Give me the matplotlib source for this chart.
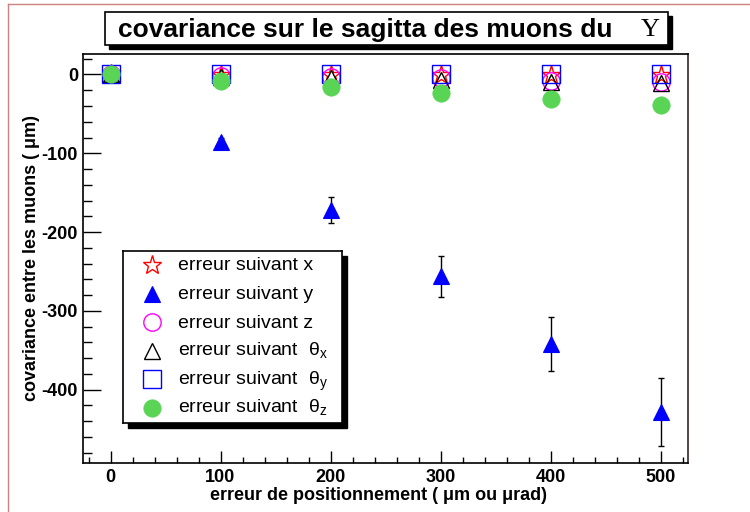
import matplotlib
matplotlib.use("Agg")
import matplotlib.pyplot as plt
from matplotlib.patches import Rectangle
from matplotlib.lines import Line2D
from matplotlib.ticker import MultipleLocator

plt.rcParams['font.family'] = ['Liberation Sans', 'DejaVu Sans']
plt.rcParams['axes.unicode_minus'] = False

# ---- data ----
positions = [0, 100, 200, 300, 400, 500]
cov_x = [0, -0.5, -1, -1, -1, -1]
cov_y = [0, -86, -172, -256, -342, -428]
err_y = [0, 5, 17, 26, 34.5, 43]
cov_z = [0, -2, -3, -4, -8, -9]
cov_tx = [0, -3, -5, -7, -10, -11]
cov_ty = [0, 0.5, 0.5, 1, 1, 1]
cov_tz = [0, -7.8, -15.5, -23.5, -31, -38.5]

labels = ['erreur suivant x', 'erreur suivant y', 'erreur suivant z',
          'erreur suivant  θ$_\\mathregular{x}$',
          'erreur suivant  θ$_\\mathregular{y}$',
          'erreur suivant  θ$_\\mathregular{z}$']
title_text = 'covariance sur le sagitta des muons du'
xlabel_text = 'erreur de positionnement ( μm ou μrad)'
ylabel_text = 'covariance entre les muons ( μm)'
xticks = [0, 100, 200, 300, 400, 500]
yticks = [0, -100, -200, -300, -400]

W, H = 750, 512
fig = plt.figure(figsize=(7.5, 5.12), dpi=100)

def fx(px):
    return px / W

def fy(py):
    return 1 - py / H

ax = fig.add_axes([fx(83), fy(463), fx(688) - fx(83), fy(54) - fy(463)])
ax.set_xlim(-25, 525)
ax.set_ylim(-493, 26)

green = '#59d454'
styles = [
    dict(marker='*', ms=14, mfc='none', mec='#ff0000', mew=1.0),
    dict(marker='^', ms=12.2, mfc='#0000ff', mec='#0000ff', mew=0.8),
    dict(marker='o', ms=12.5, mfc='none', mec='#ff00ff', mew=1.0),
    dict(marker='^', ms=12.2, mfc='none', mec='black', mew=1.0),
    dict(marker='s', ms=12.8, mfc='none', mec='#0000ff', mew=1.0),
    dict(marker='o', ms=12.5, mfc=green, mec=green, mew=0.5),
]
series = [cov_x, cov_y, cov_z, cov_tx, cov_ty, cov_tz]

ax.errorbar(positions, cov_y, yerr=err_y, fmt='none', ecolor='black',
            elinewidth=1.0, capsize=2.2, capthick=1.0, zorder=2)
for i, (vals, st) in enumerate(zip(series, styles)):
    ax.plot(positions, vals, linestyle='none', zorder=3 + i, **st)

ax.xaxis.set_major_locator(MultipleLocator(100))
ax.xaxis.set_minor_locator(MultipleLocator(20))
ax.yaxis.set_major_locator(MultipleLocator(100))
ax.yaxis.set_minor_locator(MultipleLocator(20))
ax.set_xticks(xticks)
ax.set_yticks(yticks)
ax.set_xticklabels([str(t) for t in xticks])
ax.set_yticklabels([str(t) for t in yticks])
ax.tick_params(axis='x', which='major', direction='in', length=8.6, width=1,
               pad=4.5, labelsize=13, top=False)
ax.tick_params(axis='x', which='minor', direction='in', length=4.3, width=1, top=False)
ax.tick_params(axis='y', which='major', direction='in', length=13, width=1,
               pad=3.6, labelsize=13, right=False)
ax.tick_params(axis='y', which='minor', direction='in', length=6.5, width=1, right=False)
for lab in ax.get_xticklabels() + ax.get_yticklabels():
    lab.set_fontweight('bold')
for sp in ax.spines.values():
    sp.set_linewidth(1.2)
    sp.set_color('black')
ax.spines['right'].set_color('#3a2626')

# axis titles
fig.text(fx(378), fy(495), xlabel_text, ha='center', va='center',
         fontsize=13, fontweight='bold')
fig.text(fx(32), fy(258), ylabel_text, ha='center', va='center',
         rotation=90, fontsize=13, fontweight='bold')

# title box with shadow
tb = (105, 12, 668, 45)
sh = 4
fig.patches.append(Rectangle((fx(tb[0] + sh), fy(tb[3] + sh)),
                             fx(tb[2] - tb[0]), (tb[3] - tb[1]) / H,
                             transform=fig.transFigure, facecolor='black',
                             edgecolor='black', zorder=5))
fig.patches.append(Rectangle((fx(tb[0]), fy(tb[3])),
                             fx(tb[2] - tb[0]), (tb[3] - tb[1]) / H,
                             transform=fig.transFigure, facecolor='white',
                             edgecolor='black', linewidth=1.2, zorder=6))
fig.text(fx(118), fy(30), title_text, ha='left', va='center',
         fontsize=19, fontweight='bold', zorder=7)
fig.text(fx(650), fy(30), 'Υ', ha='center', va='center', fontsize=19,
         family='Liberation Serif', zorder=7)

# legend box with shadow
lb = (123, 251, 342, 423)
fig.patches.append(Rectangle((fx(lb[0] + 5), fy(lb[3] + 5)),
                             fx(lb[2] - lb[0]), (lb[3] - lb[1]) / H,
                             transform=fig.transFigure, facecolor='black',
                             edgecolor='black', zorder=5))
lax = fig.add_axes([fx(lb[0]), fy(lb[3]), fx(lb[2] - lb[0]), (lb[3] - lb[1]) / H],
                   zorder=10)
lax.set_xlim(0, lb[2] - lb[0])
lax.set_ylim(lb[3] - lb[1], 0)
lax.set_xticks([])
lax.set_yticks([])
for sp in lax.spines.values():
    sp.set_linewidth(1.2)
rows = [14, 42.5, 71, 99.5, 128, 156.5]
for ry, lab, st in zip(rows, labels, styles):
    lax.add_line(Line2D([29], [ry], linestyle='none', **st))
    lax.text(55, ry + 5.5, lab, ha='left', va='baseline', fontsize=14)

# canvas border
fig.add_artist(Line2D([fx(8), fx(8)], [0, fy(4)], color='#d08080', lw=1,
                      transform=fig.transFigure))
fig.add_artist(Line2D([fx(8), 1], [fy(4), fy(4)], color='#d08080', lw=1,
                      transform=fig.transFigure))

fig.savefig('out.png', dpi=100)
